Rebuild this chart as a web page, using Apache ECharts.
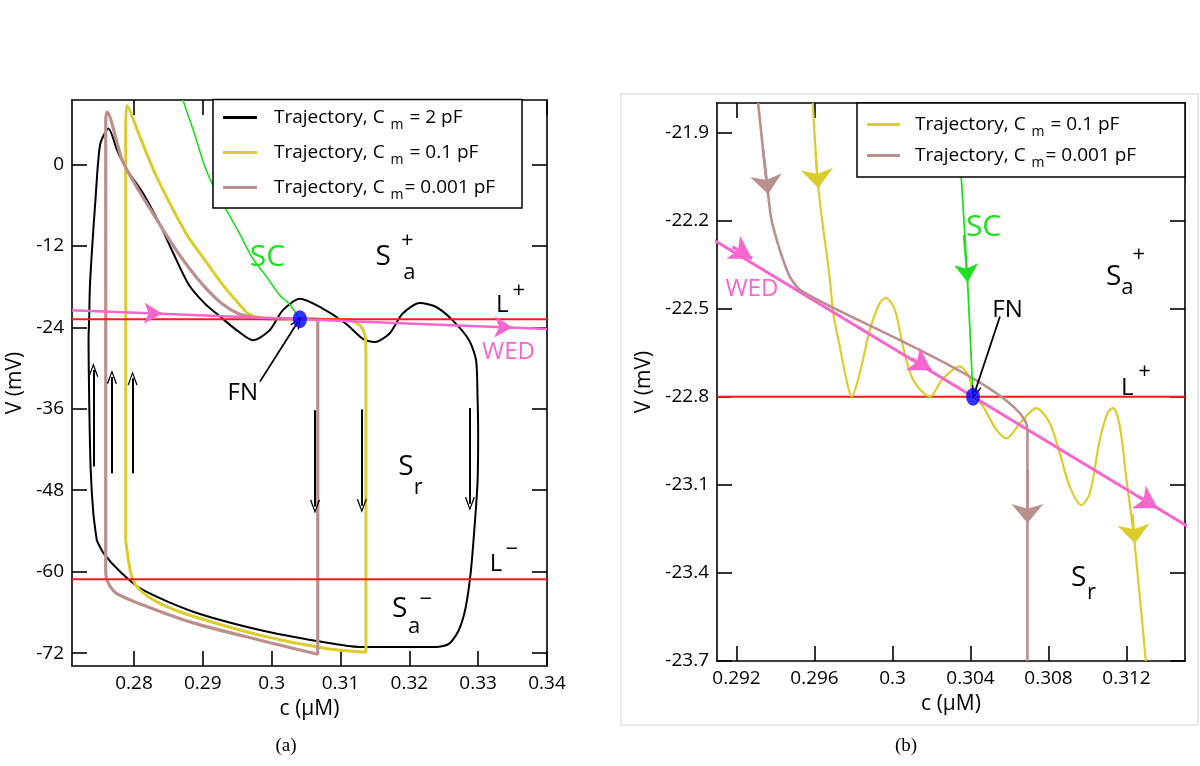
<!DOCTYPE html>
<html><head><meta charset="utf-8">
<script src="https://cdn.jsdelivr.net/npm/echarts@6/dist/echarts.min.js"></script>
<style>html,body{margin:0;padding:0;background:#fff}#c{width:1200px;height:766px}</style>
</head><body><div id="c"></div>
<script>
// ---------------- tick labels ----------------
const xTicksA = [0.28, 0.29, 0.3, 0.31, 0.32, 0.33, 0.34];
const yTicksA = [-72, -60, -48, -36, -24, -12, 0];
const xTicksB = [0.292, 0.296, 0.3, 0.304, 0.308, 0.312];
const yTicksB = [-23.7, -23.4, -23.1, -22.8, -22.5, -22.2, -21.9];

// ---------------- panel (a) curves: [c (µM), V (mV)] ----------------
const trajBlackA = [[0.2746,-55.4],[0.2741,-51.4],[0.2737,-44.6],[0.2735,-34.8],[0.2734,-25.9],[0.2735,-22.5],
  [0.2736,-18.0],[0.2739,-12.7],[0.2744,-5.3],[0.2751,3.0],[0.2763,5.3],[0.2776,2.0],[0.2790,-0.8],[0.2813,-4.2],
  [0.2838,-8.9],[0.2855,-12.6],[0.2879,-17.6],[0.2903,-20.5],[0.2925,-22.4],[0.2949,-24.4],[0.2973,-25.9],
  [0.2997,-24.45],[0.3016,-21.5],[0.3041,-19.8],[0.3070,-21.0],[0.3108,-23.46],[0.3132,-25.67],[0.3149,-26.17],
  [0.3171,-24.94],[0.3190,-21.99],[0.3215,-20.42],[0.3239,-21.0],[0.3263,-22.97],[0.3287,-25.92],[0.3297,-28.87],
  [0.3299,-33.8],[0.3300,-39.7],[0.3299,-47.0],[0.3294,-54.4],[0.3289,-60.3],[0.3282,-65.2],[0.3272,-68.6],
  [0.3258,-70.6],[0.3239,-71.1],[0.3128,-71.1],[0.3070,-70.3],[0.2983,-68.6],[0.2886,-65.9],[0.2813,-62.7],
  [0.2780,-60.0],[0.2756,-57.3],[0.2746,-55.4]];
const trajYellowA = [[0.2788,-55.4],[0.2788,-20],[0.2788,5],[0.2790,8.7],[0.2807,4.5],[0.2831,-1.4],[0.2855,-6.3],
  [0.2879,-10.7],[0.2903,-14.1],[0.2928,-17.6],[0.2952,-20.5],[0.2966,-22.0],[0.2985,-22.6],[0.3041,-22.75],
  [0.3094,-22.8],[0.3115,-22.95],[0.3130,-23.9],[0.3136,-25.4],[0.3137,-28.9],[0.3137,-60],[0.3137,-71.87],
  [0.3079,-71.33],[0.2983,-69.37],[0.2886,-66.57],[0.2838,-64.7],[0.2809,-62.74],[0.2797,-60.78],[0.2792,-58.32],
  [0.2788,-55.4]];
const trajBrownA = [[0.2759,-55.4],[0.2759,0],[0.2759,6.5],[0.2761,7.7],[0.2783,0.6],[0.2807,-3.83],[0.2831,-7.76],
  [0.2855,-11.68],[0.2879,-15.12],[0.2903,-18.07],[0.2928,-20.52],[0.2952,-21.99],[0.2971,-22.48],[0.2990,-22.7],
  [0.3041,-22.75],[0.3067,-22.8],[0.3067,-72.16],[0.2983,-70.1],[0.2886,-67.55],[0.2814,-64.95],[0.2775,-63.23],
  [0.2763,-61.75],[0.2759,-60.28],[0.2759,-55.4]];
const scA = [[0.2871,9.5],[0.2888,4.5],[0.2903,-0.3],[0.2920,-4.2],[0.2937,-7.2],[0.2955,-10.5],[0.2971,-13.6],
  [0.2993,-16.6],[0.3012,-19.3],[0.3026,-20.6],[0.3041,-22.8]];
const wedLine = [[0.271,-21.47],[0.34,-24.24]];
const lPlusA = [[0.271,-22.8],[0.34,-22.8]];
const lMinusA = [[0.271,-61.1],[0.34,-61.1]];
const fnPointA = [[0.3041,-22.8]];

// arrows of panel (a): [start, end]
const wedArrowsA = [[[0.2825,-21.93],[0.2841,-21.99]],[[0.3335,-23.98],[0.3350,-24.04]]];
const flowArrowsA = [
  [[0.2741,-44.5],[0.2741,-30.3]],[[0.2768,-45.5],[0.2768,-31.3]],[[0.2798,-45.5],[0.2798,-31.5]],
  [[0.3063,-36.2],[0.3063,-50.4]],[[0.3131,-36.1],[0.3131,-50.3]],[[0.3288,-35.9],[0.3288,-50.0]]];
const fnArrowA = [[[0.2983,-32.0],[0.3038,-23.2]]];

// annotations of panel (a): [text, c, V, kind]
const annotA = [
  ['SC', 0.2994, -13.7, 'sc'],
  ['S', 0.3162, -13.7, 'big'], ['a', 0.3200, -15.9, 'sub'], ['+', 0.3197, -11.2, 'sup'],
  ['L', 0.3335, -20.8, 'mid'], ['+', 0.3359, -18.6, 'sup'],
  ['WED', 0.3344, -27.7, 'wed'],
  ['FN', 0.2958, -33.7, 'mid'],
  ['S', 0.3195, -44.6, 'big'], ['r', 0.3213, -47.6, 'sub'],
  ['L', 0.3326, -58.9, 'mid'], ['\u2212', 0.3349, -56.7, 'sup'],
  ['S', 0.3186, -65.5, 'big'], ['a', 0.3207, -68.1, 'sub'], ['\u2212', 0.3224, -64.2, 'sup']];

// ---------------- panel (b) curves ----------------
const trajYellowB = [[0.29591,-21.8],[0.29621,-22.095],[0.29679,-22.402],[0.29696,-22.516],[0.2973,-22.63],
  [0.29764,-22.743],[0.2979,-22.8],[0.29832,-22.72],[0.29884,-22.572],[0.29935,-22.481],[0.29966,-22.464],
  [0.30012,-22.504],[0.30054,-22.629],[0.30106,-22.743],[0.30191,-22.8],[0.30254,-22.743],[0.30343,-22.697],
  [0.30392,-22.731],[0.30413,-22.79],[0.30465,-22.834],[0.30533,-22.913],[0.30585,-22.942],[0.30653,-22.891],
  [0.30738,-22.839],[0.30807,-22.891],[0.30858,-22.993],[0.30909,-23.106],[0.30969,-23.169],[0.31012,-23.129],
  [0.31063,-22.947],[0.31106,-22.851],[0.31131,-22.839],[0.31166,-22.902],[0.312,-23.083],[0.31234,-23.254],
  [0.31268,-23.481],[0.31299,-23.70]];
const trajBrownB = [[0.29311,-21.8],[0.29336,-21.959],[0.29362,-22.11],[0.29379,-22.197],[0.29422,-22.30],
  [0.29473,-22.391],[0.29525,-22.436],[0.30692,-22.91],[0.30692,-23.7]];
const scB = [[0.30328,-21.8],[0.30353,-22.056],[0.30385,-22.41],[0.30413,-22.8]];
const lPlusB = [[0.291,-22.8],[0.315,-22.8]];
const fnPointB = [[0.30413,-22.8]];

const wedArrowsB = [[[0.2918,-22.29],[0.2928,-22.33]],[[0.3010,-22.67],[0.3020,-22.71]],[[0.3126,-23.14],[0.3136,-23.18]]];
const yellowArrowsB = [[[0.29605,-21.97],[0.2962,-22.09]],[[0.31232,-23.20],[0.31243,-23.30]]];
const brownArrowsB = [[[0.29336,-21.96],[0.29362,-22.11]],[[0.30692,-23.05],[0.30692,-23.23]]];
const scArrowsB = [[[0.30365,-22.25],[0.30385,-22.41]]];
const fnArrowB = [[[0.30551,-22.527],[0.30422,-22.785]]];

const annotB = [
  ['SC', 0.30467, -22.223, 'sc'],
  ['S', 0.31134, -22.394, 'big'], ['a', 0.31204, -22.43, 'sub'], ['+', 0.31263, -22.317, 'sup'],
  ['WED', 0.29279, -22.433, 'wed'],
  ['FN', 0.3059, -22.504, 'mid'],
  ['L', 0.31204, -22.771, 'mid'], ['+', 0.31293, -22.714, 'sup'],
  ['S', 0.30955, -23.418, 'big'], ['r', 0.3102, -23.469, 'sub']];

// legend entries
const legendNames = ['Cm2', 'Cm01', 'Cm0001'];
const legendValues = [' = 2 pF', ' = 0.1 pF', '= 0.001 pF'];

// ---------------- styling ----------------
const FONT = 'Open Sans';
const C_BLACK = '#000000', C_YEL = '#dccd2d', C_BROWN = '#bc8f8f', C_PINK = '#f766cd',
      C_GREEN = '#1fe01f', C_RED = '#ff1a1a', C_BLUE = '#0000ff';
const chevron = 'path://M5,0 L10,13 L8.8,13.6 L5,3.2 L1.2,13.6 L0,13 Z';

const kindStyle = {
  sc:  {color: C_GREEN, fontSize: 30},
  wed: {color: C_PINK, fontSize: 24},
  big: {color: '#000000', fontSize: 28},
  mid: {color: '#000000', fontSize: 24},
  sub: {color: '#000000', fontSize: 22},
  sup: {color: '#000000', fontSize: 22}
};

function mkAxis(grid, min, max, ticks, pos, showLabel, name, nameGap) {
  const a = {
    gridIndex: grid, type: 'value', min: min, max: max, position: pos,
    axisLine: {show: true, onZero: false, lineStyle: {color: '#000', width: 1.6}},
    axisTick: {show: true, inside: true, length: 15, customValues: ticks, lineStyle: {color: '#000', width: 1.6}},
    axisLabel: {show: showLabel, customValues: ticks, color: '#000', fontSize: 19, fontFamily: FONT, margin: 8,
                formatter: v => String(v)},
    splitLine: {show: false}
  };
  if (name) {
    a.name = name; a.nameLocation = 'middle'; a.nameGap = nameGap;
    a.nameTextStyle = {color: '#000', fontSize: 21, fontFamily: FONT};
  }
  return a;
}

function lineS(name, data, xi, yi, color, width, smooth, arrows, arrowSym, arrowSize) {
  const s = {
    name: name, type: 'line', xAxisIndex: xi, yAxisIndex: yi, data: data,
    showSymbol: false, symbol: 'none', smooth: smooth, animation: false,
    lineStyle: {color: color, width: width}, itemStyle: {color: color},
    emphasis: {disabled: true}, silent: true
  };
  if (arrows) {
    s.markLine = {
      silent: true, animation: false, symbol: ['none', arrowSym], symbolSize: arrowSize,
      lineStyle: {color: color, width: width, type: 'solid'}, label: {show: false},
      emphasis: {disabled: true},
      data: arrows.map(p => [{coord: p[0]}, {coord: p[1]}])
    };
  }
  return s;
}

function annotSeries(list, xi, yi) {
  return {
    type: 'scatter', xAxisIndex: xi, yAxisIndex: yi, symbolSize: 1, animation: false, silent: true,
    itemStyle: {color: '#ffffff', opacity: 1}, z: 10,
    emphasis: {disabled: true},
    data: list.map(a => ({
      value: [a[1], a[2]],
      label: Object.assign({show: true, position: 'inside', formatter: a[0], fontFamily: FONT,
                            textBorderWidth: 0, textShadowBlur: 0, opacity: 1}, kindStyle[a[3]])
    }))
  };
}

function dotSeries(data, xi, yi, arrows) {
  const s = {
    type: 'scatter', xAxisIndex: xi, yAxisIndex: yi, data: data, symbol: 'circle', symbolSize: [14, 18],
    itemStyle: {color: C_BLUE}, z: 9, animation: false, silent: true
  };
  if (arrows) {
    s.markLine = {
      silent: true, animation: false, symbol: ['none', chevron], symbolSize: [10, 13],
      lineStyle: {color: '#000', width: 1.8, type: 'solid'}, label: {show: false},
      data: arrows.map(p => [{coord: p[0]}, {coord: p[1]}])
    };
  }
  return s;
}

const legendText = {};
legendNames.forEach((n, i) => { legendText[n] = '{t|Trajectory, C }{s|m}{t|' + legendValues[i] + '}'; });
const legendRich = {
  t: {fontSize: 19, fontFamily: FONT, color: '#000000'},
  s: {fontSize: 14, fontFamily: FONT, color: '#000000', padding: [15, 1, 0, 1]}
};

const option = {
  backgroundColor: '#fff',
  animation: false,
  grid: [
    {left: 72, top: 100, width: 475, height: 566},
    {left: 717, top: 103, width: 468, height: 558}
  ],
  xAxis: [
    mkAxis(0, 0.271, 0.34, xTicksA, 'bottom', true, 'c (\u00b5M)', 33),
    mkAxis(0, 0.271, 0.34, xTicksA, 'top', false),
    mkAxis(1, 0.291, 0.315, xTicksB, 'bottom', true, 'c (\u00b5M)', 33),
    mkAxis(1, 0.291, 0.315, xTicksB, 'top', false)
  ],
  yAxis: [
    mkAxis(0, -73.9, 9.5, yTicksA, 'left', true, 'V (mV)', 46),
    mkAxis(0, -73.9, 9.5, yTicksA, 'right', false),
    mkAxis(1, -23.7, -21.8, yTicksB, 'left', true, 'V (mV)', 62),
    mkAxis(1, -23.7, -21.8, yTicksB, 'right', false)
  ],
  legend: [
    {data: legendNames, left: 213, top: 99, orient: 'vertical', icon: 'rect', itemWidth: 34, itemHeight: 3,
     itemGap: 11, padding: [9, 10, 7, 10], backgroundColor: 'transparent', borderWidth: 0,
     selectedMode: false, formatter: n => legendText[n], z: 6,
     textStyle: {color: '#000', rich: legendRich, padding: [0, 0, 0, 12]}},
    {data: legendNames.slice(1), left: 857, top: 103, orient: 'vertical', icon: 'rect', itemWidth: 33, itemHeight: 3,
     itemGap: 7, padding: [12, 10, 6, 10], backgroundColor: 'transparent', borderWidth: 0,
     selectedMode: false, formatter: n => legendText[n], z: 6,
     textStyle: {color: '#000', rich: legendRich, padding: [0, 0, 0, 10]}}
  ],
  graphic: [
    {type: 'rect', shape: {x: 621, y: 94, width: 577, height: 631}, style: {fill: 'none', stroke: '#e8e8e8', lineWidth: 2}, z: -1},
    {type: 'rect', shape: {x: 213, y: 99.5, width: 309, height: 108.5}, style: {fill: '#ffffff', stroke: '#000', lineWidth: 1.5}, z: 5},
    {type: 'rect', shape: {x: 857, y: 103, width: 328, height: 74}, style: {fill: '#ffffff', stroke: '#000', lineWidth: 1.5}, z: 5},
    {type: 'text', x: 286, y: 746, style: {text: '(a)', font: '19px "Liberation Serif"', fill: '#000', align: 'center', verticalAlign: 'middle'}},
    {type: 'text', x: 906, y: 746, style: {text: '(b)', font: '19px "Liberation Serif"', fill: '#000', align: 'center', verticalAlign: 'middle'}}
  ],
  series: [
    // panel (a)
    lineS('Cm2', trajBlackA, 0, 0, C_BLACK, 2, 0.25, flowArrowsA, chevron, [10, 14]),
    lineS('Cm01', trajYellowA, 0, 0, C_YEL, 3, 0.25),
    lineS('Cm0001', trajBrownA, 0, 0, C_BROWN, 3.2, 0.25),
    lineS('LplusA', lPlusA, 0, 0, C_RED, 2, false),
    lineS('LminusA', lMinusA, 0, 0, C_RED, 2, false),
    lineS('wedA', wedLine, 0, 0, C_PINK, 2.5, false, wedArrowsA, 'arrow', [16, 18]),
    lineS('scA', scA, 0, 0, C_GREEN, 1.6, 0.3),
    dotSeries(fnPointA, 0, 0, fnArrowA),
    annotSeries(annotA, 0, 0),
    // panel (b)
    lineS('LplusB', lPlusB, 2, 2, C_RED, 2, false),
    lineS('Cm01', trajYellowB, 2, 2, C_YEL, 2.2, 0.3, yellowArrowsB, 'arrow', [24, 19]),
    lineS('wedB', wedLine, 2, 2, C_PINK, 3, false, wedArrowsB, 'arrow', [20, 22]),
    lineS('Cm0001', trajBrownB, 2, 2, C_BROWN, 2.6, 0.2, brownArrowsB, 'arrow', [24, 19]),
    lineS('scB', scB, 2, 2, C_GREEN, 1.8, 0.3, scArrowsB, 'arrow', [18, 18]),
    dotSeries(fnPointB, 2, 2, fnArrowB),
    annotSeries(annotB, 2, 2)
  ]
};

const chart = echarts.init(document.getElementById('c'), null, {renderer: 'canvas'});
chart.setOption(option);
</script>
</body></html>
